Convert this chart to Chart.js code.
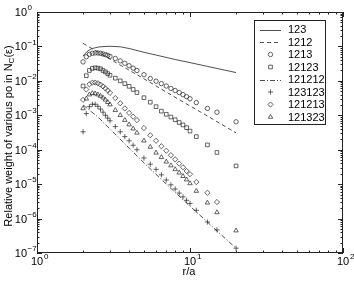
<!DOCTYPE html>
<html>
<head>
<meta charset="utf-8">
<script src="https://cdn.jsdelivr.net/npm/chart.js@4.4.1/dist/chart.umd.min.js"></script>
<style>
  html, body { margin: 0; padding: 0; background: #fff; }
  #wrap { width: 354px; height: 284px; }
</style>
</head>
<body>
<div id="wrap"><canvas id="chart" width="354" height="284"></canvas></div>
<script>
// r/a values where the marker series were sampled
const rGrid = [2, 2.1, 2.2, 2.3, 2.4, 2.5, 2.6, 2.7, 2.8, 2.9, 3, 3.25, 3.5, 3.75, 4, 4.25, 4.5,
               5, 5.5, 6, 6.5, 7, 7.5, 8, 8.5, 9, 9.5, 10, 11, 13, 15, 20];

// marker series (relative weights)
const w1213 = [3.55e-2, 5.01e-2, 5.89e-2, 6.31e-2, 6.46e-2, 6.46e-2, 6.31e-2, 6.03e-2, 5.75e-2, 5.50e-2,
               5.13e-2, 4.47e-2, 3.80e-2, 3.24e-2, 2.75e-2, 2.34e-2, 2.00e-2,
               1.51e-2, 1.17e-2, 9.77e-3, 8.32e-3, 7.08e-3, 6.03e-3, 5.25e-3, 4.57e-3, 3.98e-3, 3.47e-3,
               3.02e-3, 2.34e-3, 1.58e-3, 1.23e-3, 6.46e-4];
const w12123 = [7.08e-3, 1.41e-2, 2.00e-2, 2.29e-2, 2.40e-2, 2.34e-2, 2.24e-2, 2.00e-2, 1.82e-2, 1.62e-2,
                1.45e-2, 1.20e-2, 1.00e-2, 8.32e-3, 6.92e-3, 5.62e-3, 4.57e-3,
                3.24e-3, 2.40e-3, 1.78e-3, 1.32e-3, 1.07e-3, 8.91e-4, 7.41e-4, 6.17e-4, 5.25e-4, 4.37e-4,
                3.47e-4, 2.40e-4, 1.38e-4, 8.32e-5, 3.39e-5];
const w121213 = [2.82e-3, 5.62e-3, 7.94e-3, 8.91e-3, 8.91e-3, 8.51e-3, 7.76e-3, 6.92e-3, 6.03e-3, 5.25e-3,
                 4.47e-3, 3.16e-3, 2.24e-3, 1.58e-3, 1.17e-3, 9.12e-4, 7.24e-4,
                 4.27e-4, 2.63e-4, 1.82e-4, 1.26e-4, 9.33e-5, 6.92e-5, 5.25e-5, 3.98e-5, 3.09e-5, 2.40e-5,
                 1.95e-5, 1.15e-5, 5.62e-6, 3.02e-6, null];
const w121323 = [1.58e-3, 3.02e-3, 3.98e-3, 4.37e-3, 4.27e-3, 3.98e-3, 3.63e-3, 3.24e-3, 2.82e-3, 2.40e-3,
                 2.04e-3, 1.41e-3, 1.00e-3, 7.24e-4, 5.37e-4, 4.07e-4, 3.09e-4,
                 1.82e-4, 1.20e-4, 8.13e-5, 6.03e-5, 4.47e-5, 3.47e-5, 2.69e-5, 2.14e-5, 1.70e-5, 1.35e-5,
                 1.05e-5, 6.31e-6, 2.88e-6, 1.51e-6, 4.47e-7];
const w123123 = [3.31e-4, 1.12e-3, 1.78e-3, 2.09e-3, 2.09e-3, 1.82e-3, 1.51e-3, 1.23e-3, 1.00e-3, 8.32e-4,
                 6.92e-4, 4.68e-4, 3.31e-4, 2.40e-4, 1.82e-4, 1.35e-4, 1.00e-4,
                 5.75e-5, 3.80e-5, 2.69e-5, 1.86e-5, 1.32e-5, 9.55e-6, 7.24e-6, 5.50e-6, 4.27e-6, 3.39e-6,
                 2.75e-6, 1.74e-6, 7.94e-7, 4.68e-7, 1.38e-7];

// line series
const r123 = [2, 2.1, 2.2, 2.3, 2.4, 2.5, 2.7, 3, 3.5, 4, 5, 6, 7, 8, 10, 13, 15, 20];
const w123 = [5.25e-2, 6.76e-2, 7.94e-2, 8.71e-2, 9.12e-2, 9.55e-2, 9.89e-2, 1.01e-1, 9.77e-2, 8.71e-2,
              6.76e-2, 5.62e-2, 4.79e-2, 4.17e-2, 3.39e-2, 2.63e-2, 2.29e-2, 1.74e-2];
const r1212 = [2, 3, 4, 5, 7, 10, 13, 15, 20];
const w1212 = [1.23e-1, 4.27e-2, 2.04e-2, 1.15e-2, 4.73e-3, 1.87e-3, 9.55e-4, 6.53e-4, 3.09e-4];
const r121212 = [2, 2.5, 3, 4, 5, 7, 10, 13, 15, 20];
const w121212 = [2.00e-3, 8.91e-4, 3.98e-4, 1.12e-4, 4.17e-5, 1.00e-5, 2.29e-6, 7.94e-7, 4.37e-7, 1.38e-7];

const xTicks = [1, 10, 100];
const xTickExp = ["0", "1", "2"];
const yTicks = [1, 1e-1, 1e-2, 1e-3, 1e-4, 1e-5, 1e-6, 1e-7];
const yTickExp = ["0", "-1", "-2", "-3", "-4", "-5", "-6", "-7"];

const INK = "#222";
const FONT = "'Liberation Sans', Arial, Helvetica, sans-serif";

function pts(xs, ys) {
    const out = [];
    xs.forEach((x, i) => { if (ys[i] != null) out.push({ x: x, y: ys[i] }); });
    return out;
}

function lineSet(label, xs, ys, dash) {
    return {
        label, data: pts(xs, ys), showLine: true, borderColor: INK, borderWidth: 0.8,
        borderDash: dash, pointRadius: 0, fill: false, tension: 0
    };
}

function markSet(label, ys, style, radius) {
    return {
        label, data: pts(rGrid, ys), showLine: false, pointStyle: style, pointRadius: radius,
        borderColor: INK, borderWidth: 0.7, backgroundColor: "rgba(0,0,0,0)"
    };
}

const datasets = [
    lineSet("123", r123, w123, []),
    lineSet("1212", r1212, w1212, [4, 3]),
    markSet("1213", w1213, "circle", 2.2),
    markSet("12123", w12123, "rect", 2.6),
    lineSet("121212", r121212, w121212, [5, 2, 1, 2]),
    markSet("123123", w123123, "cross", 2.6),
    markSet("121213", w121213, "rectRot", 2.6),
    markSet("121323", w121323, "triangle", 2.6),
];

// axes frame, inward ticks, labels and the boxed legend, MATLAB style
const decor = {
    id: "decor",
    afterDraw(chart) {
        const ctx = chart.ctx;
        const a = chart.chartArea;
        const sx = chart.scales.x, sy = chart.scales.y;
        ctx.save();
        ctx.strokeStyle = INK;
        ctx.lineWidth = 1;
        ctx.strokeRect(a.left + 0.5, a.top + 0.5, a.right - a.left - 1, a.bottom - a.top - 1);

        // ticks
        ctx.beginPath();
        for (let e = 0; e < 2; e++) {
            for (let k = 1; k <= 10; k++) {
                const v = k * Math.pow(10, e);
                const px = Math.round(sx.getPixelForValue(v)) + 0.5;
                const len = (k === 1 || k === 10) ? 5 : 2.5;
                ctx.moveTo(px, a.bottom); ctx.lineTo(px, a.bottom - len);
                ctx.moveTo(px, a.top); ctx.lineTo(px, a.top + len);
            }
        }
        for (let e = -7; e < 0; e++) {
            for (let k = 1; k <= 10; k++) {
                const v = k * Math.pow(10, e);
                const py = Math.round(sy.getPixelForValue(v)) + 0.5;
                const len = (k === 1 || k === 10) ? 5 : 2.5;
                ctx.moveTo(a.left, py); ctx.lineTo(a.left + len, py);
                ctx.moveTo(a.right, py); ctx.lineTo(a.right - len, py);
            }
        }
        ctx.stroke();

        ctx.fillStyle = "#000";
        ctx.textBaseline = "middle";
        // y tick labels
        yTicks.forEach((v, i) => {
            const py = sy.getPixelForValue(v);
            ctx.font = "11px " + FONT;
            ctx.textAlign = "right";
            ctx.fillText("10", 27, py + 1);
            ctx.font = "8px " + FONT;
            ctx.textAlign = "left";
            ctx.fillText(yTickExp[i].replace("-", "\u2212"), 27.5, py - 4);
        });
        // x tick labels
        xTicks.forEach((v, i) => {
            const px = sx.getPixelForValue(v);
            ctx.font = "11px " + FONT;
            ctx.textAlign = "center";
            ctx.fillText("10", px, 262);
            ctx.font = "8px " + FONT;
            ctx.textAlign = "left";
            ctx.fillText(xTickExp[i], px + 7, 257);
        });
        // x title
        ctx.font = "11px " + FONT;
        ctx.textAlign = "center";
        ctx.fillText("r/a", 189, 272);

        // y title with subscript
        ctx.save();
        ctx.translate(8.5, 136);
        ctx.rotate(-Math.PI / 2);
        const p1 = "Relative weight of various po in N", p2 = "C", p3 = "(\u03b5)";
        ctx.font = "11px " + FONT;
        const w1 = ctx.measureText(p1).width, w3 = ctx.measureText(p3).width;
        ctx.font = "8px " + FONT;
        const w2 = ctx.measureText(p2).width;
        let u = -(w1 + w2 + w3) / 2;
        ctx.textAlign = "left";
        ctx.font = "11px " + FONT;
        ctx.fillText(p1, u, 0);
        ctx.font = "8px " + FONT;
        ctx.fillText(p2, u + w1, 3);
        ctx.font = "11px " + FONT;
        ctx.fillText(p3, u + w1 + w2, 0);
        ctx.restore();

        // legend
        const lx = 254, ly = 20, lw = 71, lh = 104;
        ctx.fillStyle = "#fff";
        ctx.fillRect(lx, ly, lw, lh);
        ctx.strokeStyle = INK;
        ctx.strokeRect(lx + 0.5, ly + 0.5, lw, lh);
        chart.data.datasets.forEach((ds, i) => {
            const y = ly + 9.5 + i * 12.5;
            ctx.strokeStyle = INK;
            if (ds.showLine) {
                ctx.lineWidth = ds.borderWidth;
                ctx.setLineDash(ds.borderDash || []);
                ctx.beginPath();
                ctx.moveTo(260, Math.round(y) + 0.5);
                ctx.lineTo(281, Math.round(y) + 0.5);
                ctx.stroke();
                ctx.setLineDash([]);
            } else {
                ctx.lineWidth = ds.borderWidth;
                ctx.fillStyle = "rgba(0,0,0,0)";
                Chart.helpers.drawPoint(ctx, { pointStyle: ds.pointStyle, radius: ds.pointRadius,
                    rotation: 0, borderWidth: ds.borderWidth }, 270.5, y);
            }
            ctx.fillStyle = "#000";
            ctx.font = "11px " + FONT;
            ctx.textAlign = "left";
            ctx.fillText(ds.label, 288, y + 0.5);
        });
        ctx.restore();
    }
};

new Chart(document.getElementById("chart"), {
    type: "scatter",
    data: { datasets },
    options: {
        responsive: false,
        animation: false,
        layout: { padding: { left: 37, right: 11, top: 12, bottom: 31 } },
        plugins: { legend: { display: false }, tooltip: { enabled: false } },
        scales: {
            x: { type: "logarithmic", min: 1, max: 100, display: false },
            y: { type: "logarithmic", min: 1e-7, max: 1, display: false }
        }
    },
    plugins: [decor]
});
</script>
</body>
</html>
